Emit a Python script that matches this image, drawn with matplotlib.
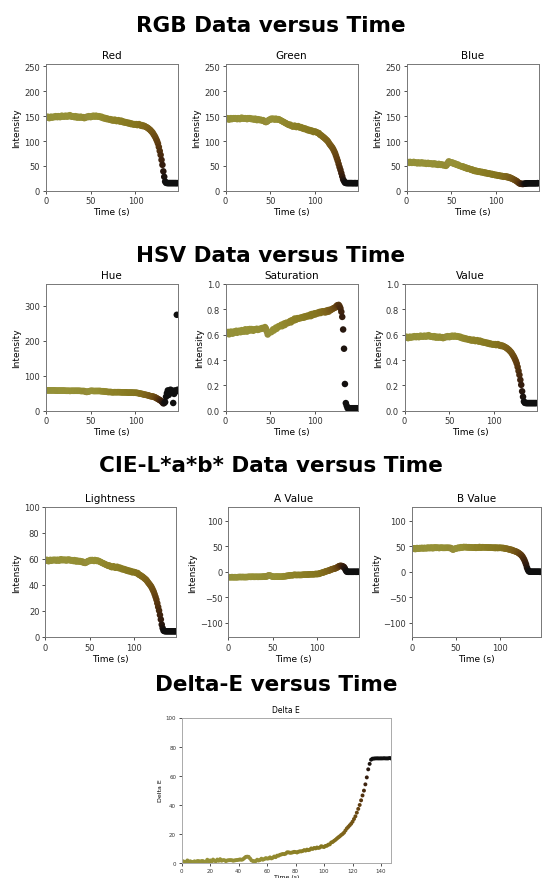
import numpy as np
import matplotlib
matplotlib.use('Agg')
import matplotlib.pyplot as plt
from matplotlib.colors import rgb_to_hsv

# averaged RGB readings of the sample region, one per second
time_s = np.arange(0, 148)

red = [148, 147, 149, 148, 146, 148, 149, 147, 148, 149,
       148, 150, 149, 148, 150, 149, 148, 150, 151, 149,
       150, 149, 151, 150, 149, 151, 150, 152, 150, 149,
       150, 149, 148, 150, 149, 147, 149, 148, 147, 149,
       148, 147, 148, 146, 147, 148, 149, 148, 150, 149,
       148, 150, 149, 151, 150, 149, 151, 150, 149, 150,
       149, 148, 149, 147, 146, 147, 145, 146, 144, 145,
       144, 143, 144, 142, 143, 141, 142, 143, 141, 140,
       141, 142, 140, 139, 141, 140, 138, 139, 137, 138,
       137, 136, 137, 135, 136, 134, 135, 134, 133, 134,
       133, 134, 132, 133, 134, 132, 131, 132, 130, 131,
       130, 129, 128, 127, 126, 124, 123, 121, 119, 117,
       114, 111, 108, 104, 100, 95, 88, 80, 72, 62,
       52, 39, 28, 18.5, 15.8, 15.5, 15.3, 15.3, 15.3, 15.3,
       15.3, 15.3, 15.3, 15.3, 15.3, 15.3, 15.17, 15.3]

green = [145, 144, 146, 145, 143, 145, 146, 144, 145, 146,
         145, 146, 145, 144, 146, 145, 144, 146, 147, 145,
         146, 145, 146, 145, 144, 146, 145, 146, 145, 144,
         145, 144, 143, 145, 144, 142, 144, 143, 142, 143,
         142, 141, 142, 140, 139, 138, 139, 140, 142, 143,
         143, 145, 144, 145, 144, 143, 145, 144, 143, 144,
         143, 142, 141, 140, 139, 138, 137, 136, 135, 134,
         133, 132, 133, 131, 130, 129, 130, 131, 129, 128,
         129, 130, 128, 127, 128, 127, 125, 126, 124, 125,
         124, 122, 123, 121, 122, 120, 121, 120, 118, 119,
         119, 118, 117, 116, 116, 113, 112, 111, 109, 108,
         106.2, 104.8, 102.8, 101.4, 99.3, 96.5, 93.6, 91.4, 88.9, 86.5,
         83.3, 79.5, 75.7, 70.7, 65.4, 60.1, 53.7, 47.5, 41.9, 35.4,
         28.9, 22.75, 19.3, 16.2, 15.48, 15.4, 15.29, 15.225, 15.275, 15.3,
         15.26, 15.285, 15.11, 15.24, 15.29, 15.275, 15.0, 15.3]

blue = [57, 58, 57, 56, 58, 57, 56, 57, 58, 56,
        57, 56, 55, 57, 56, 55, 56, 57, 55, 56,
        55, 56, 54, 55, 56, 54, 55, 54, 55, 53,
        54, 55, 53, 54, 53, 52, 54, 53, 52, 53,
        52, 51, 52, 51, 50, 52, 56, 59, 58, 57,
        56, 57, 55, 54, 55, 53, 52, 53, 51, 50,
        50, 49, 48, 49, 47, 46, 47, 45, 44, 45,
        44, 43, 42, 43, 41, 40, 41, 39, 40, 39,
        38, 39, 38, 37, 38, 37, 36, 37, 35, 36,
        35, 34, 35, 34, 33, 34, 32, 33, 32, 31,
        32, 31, 30, 31, 30, 29, 30, 29, 28, 29,
        28, 29, 27, 28, 26, 27, 25, 25, 24, 23,
        22, 21, 20, 19, 17, 16, 14.5, 14, 13.8, 13.6,
        13.5, 14, 14.3, 14.6, 14.85, 14.9, 15.0, 15.0, 15.0, 15.0,
        15.0, 15.0, 15.0, 15.0, 15.0, 15.0, 15.3, 15.0]

rgb = np.column_stack([red, green, blue]) / 255.0


def rgb_to_lab(c):
    lin = np.where(c > 0.04045, ((c + 0.055) / 1.055) ** 2.4, c / 12.92)
    m = np.array([[0.4124, 0.3576, 0.1805],
                  [0.2126, 0.7152, 0.0722],
                  [0.0193, 0.1192, 0.9505]])
    xyz = lin @ m.T / np.array([0.95047, 1.0, 1.08883])
    f = np.where(xyz > 0.008856, np.cbrt(xyz), 7.787 * xyz + 16 / 116)
    L = 116 * f[:, 1] - 16
    a = 500 * (f[:, 0] - f[:, 1])
    b = 200 * (f[:, 1] - f[:, 2])
    return np.column_stack([L, a, b])


hsv = rgb_to_hsv(rgb)
lab = rgb_to_lab(rgb)
delta_e = np.sqrt(((lab - lab[0]) ** 2).sum(axis=1))

W, H = 542, 879
fig = plt.figure(figsize=(W / 100, H / 100), dpi=100)


def box(x0, x1, y0, y1):
    # pixel box (left, right, top, bottom) -> figure fraction
    return [x0 / W, 1 - y1 / H, (x1 - x0) / W, (y1 - y0) / H]


def panel(rect, y, title, ylim, ylabel='Intensity', fs=6.0, size=22, xticks=None,
          labelpad=1.5):
    ax = fig.add_axes(rect)
    ax.scatter(time_s, y, c=rgb, s=size, edgecolors='none')
    ax.set_xlim(0, time_s.max())
    ax.set_ylim(*ylim)
    ax.set_title(title, fontsize=fs + 1.5, pad=4)
    ax.set_xlabel('Time (s)', fontsize=fs + 0.5, labelpad=labelpad)
    ax.set_ylabel(ylabel, fontsize=fs + 0.5, labelpad=2)
    if xticks is not None:
        ax.set_xticks(xticks)
    ax.tick_params(labelsize=fs, length=2.5, width=0.6, pad=1.5, colors='#333')
    for s in ax.spines.values():
        s.set_color('#777')
        s.set_linewidth(0.7)
    return ax


fs_title = 15.5
fig.text(0.5, 1 - 26 / H, 'RGB Data versus Time', ha='center', va='center',
         fontsize=fs_title, fontweight='bold')
fig.text(0.5, 1 - 256 / H, 'HSV Data versus Time', ha='center', va='center',
         fontsize=fs_title, fontweight='bold')
fig.text(0.5, 1 - 466 / H, 'CIE-L*a*b* Data versus Time', ha='center', va='center',
         fontsize=fs_title, fontweight='bold')
fig.text(0.51, 1 - 685 / H, 'Delta-E versus Time', ha='center', va='center',
         fontsize=fs_title, fontweight='bold')

# RGB row
panel(box(45.7, 177.7, 65, 191.7), rgb[:, 0] * 255, 'Red', (0, 255))
panel(box(225.5, 357.5, 65, 191.7), rgb[:, 1] * 255, 'Green', (0, 255))
panel(box(406.5, 538.5, 65, 191.7), rgb[:, 2] * 255, 'Blue', (0, 255))

# HSV row
panel(box(45.7, 177.7, 285, 411.7), hsv[:, 0] * 360, 'Hue', (0, 362))
panel(box(225.5, 357.5, 285, 411.7), hsv[:, 1], 'Saturation', (0, 1))
panel(box(404.5, 536.5, 285, 411.7), hsv[:, 2], 'Value', (0, 1))

# CIE-Lab row
panel(box(45, 176, 507.6, 638), lab[:, 0], 'Lightness', (0, 100))
panel(box(228.4, 359, 507.6, 638), lab[:, 1], 'A Value', (-128, 128))
panel(box(411.8, 541, 507.6, 638), lab[:, 2], 'B Value', (-128, 128))

# Delta-E
ax = panel(box(181.7, 391, 718.5, 863.7), delta_e, 'Delta E', (0, 100),
           ylabel='Delta E', fs=4.0, size=8, xticks=range(0, 141, 20), labelpad=0.3)
for s in ax.spines.values():
    s.set_color('#aaa')

fig.savefig('out.png', dpi=100)
